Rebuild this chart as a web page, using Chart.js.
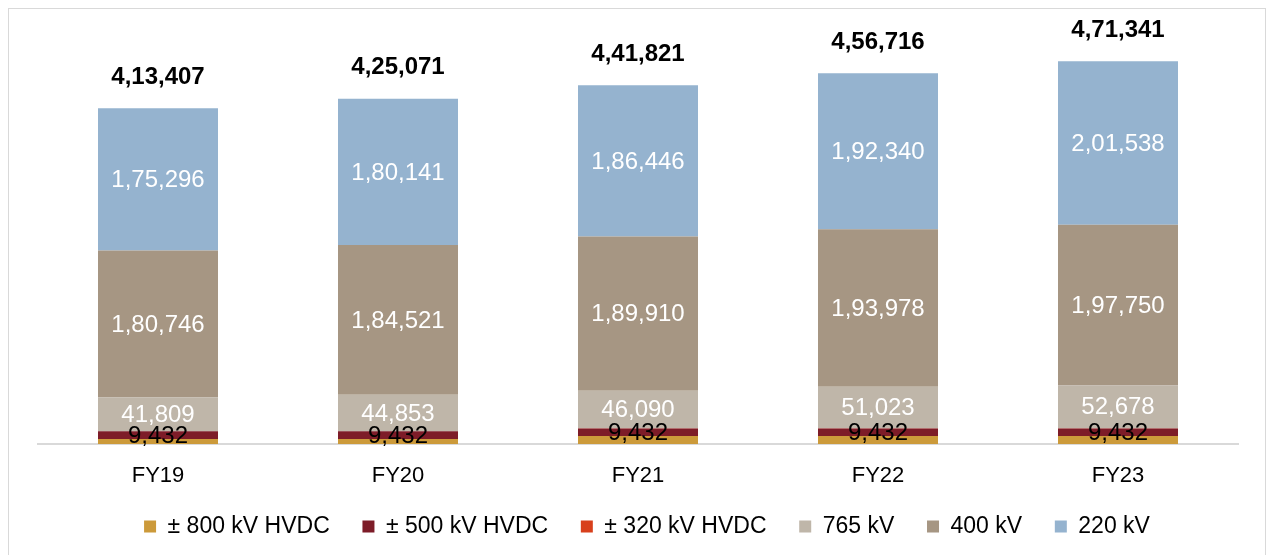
<!DOCTYPE html>
<html>
<head>
<meta charset="utf-8">
<script src="https://cdn.jsdelivr.net/npm/chart.js@4/dist/chart.umd.min.js"></script>
<style>
  body { margin: 0; background: #fff; }
  #wrap { position: relative; width: 1270px; height: 555px; overflow: hidden; }
  #frame { position: absolute; left: 8px; top: 8px; width: 1256px; height: 600px; border: 1px solid #d9d9d9; }
  canvas { position: absolute; left: 0; top: 0; }
</style>
</head>
<body>
<div id="wrap">
  <div id="frame"></div>
  <canvas id="grafica" width="1270" height="555"></canvas>
</div>
<script>
// Datos (km de circuito por nivel de tension)
const years = ['FY19', 'FY20', 'FY21', 'FY22', 'FY23'];
const hvdc800 = [6124, 6124, 9655, 9655, 9655];
const hvdc500 = [9432, 9432, 9432, 9432, 9432];
const hvdc320 = [0, 0, 288, 288, 288];
const kv765 = [41809, 44853, 46090, 51023, 52678];
const kv400 = [180746, 184521, 189910, 193978, 197750];
const kv220 = [175296, 180141, 186446, 192340, 201538];
const totals = [413407, 425071, 441821, 456716, 471341];

const FONT = '"Liberation Sans", Arial, sans-serif';

// formato indio: 4,13,407
function fmtIN(n) {
    const s = String(Math.round(n));
    if (s.length <= 3) return s;
    let last3 = s.slice(-3);
    let rest = s.slice(0, -3);
    rest = rest.replace(/\B(?=(\d{2})+(?!\d))/g, ',');
    return rest + ',' + last3;
}

// etiquetas dentro de las barras y totales arriba
const labelsPlugin = {
    id: 'labelsPlugin',
    afterDatasetsDraw(chart) {
        const ctx = chart.ctx;
        ctx.save();
        ctx.textAlign = 'center';
        ctx.textBaseline = 'middle';
        chart.data.datasets.forEach((ds, di) => {
            if (!ds.labelColor) return;
            const meta = chart.getDatasetMeta(di);
            meta.data.forEach((bar, i) => {
                const v = ds.data[i];
                if (!v) return;
                ctx.font = '24px ' + FONT;
                ctx.fillStyle = ds.labelColor;
                ctx.fillText(fmtIN(v), bar.x, (bar.y + bar.base) / 2 + 1);
            });
        });
        const top = chart.getDatasetMeta(chart.data.datasets.length - 1);
        top.data.forEach((bar, i) => {
            ctx.font = 'bold 24px ' + FONT;
            ctx.fillStyle = '#000';
            ctx.fillText(fmtIN(totals[i]), bar.x, bar.y - 31);
        });
        ctx.restore();
    }
};

// mover la leyenda un poco
const legendShift = {
    id: 'legendShift',
    afterLayout(chart) {
        const lg = chart.legend;
        const dx = 9, dy = -26;
        lg.left += dx; lg.right += dx;
        lg.top += dy; lg.bottom += dy;
    }
};

const ctx = document.getElementById('grafica').getContext('2d');

new Chart(ctx, {
    type: 'bar',
    data: {
        labels: years,
        datasets: [
            { label: '± 800 kV HVDC', data: hvdc800, backgroundColor: '#CC9A3A' },
            { label: '± 500 kV HVDC', data: hvdc500, backgroundColor: '#7D1C28', labelColor: '#000' },
            { label: '± 320 kV HVDC', data: hvdc320, backgroundColor: '#D8401C' },
            { label: '765 kV', data: kv765, backgroundColor: '#BFB6A9', labelColor: '#fff' },
            { label: '400 kV', data: kv400, backgroundColor: '#A69683', labelColor: '#fff' },
            { label: '220 kV', data: kv220, backgroundColor: '#95B3CF', labelColor: '#fff' }
        ]
    },
    options: {
        responsive: false,
        animation: false,
        devicePixelRatio: 1,
        datasets: {
            bar: { categoryPercentage: 1, barPercentage: 0.5, borderWidth: 0 }
        },
        layout: { padding: { left: 38, right: 32, top: 38, bottom: -19 } },
        scales: {
            x: {
                stacked: true,
                grid: { display: false, drawTicks: false },
                border: { display: true, color: '#d9d9d9', width: 2 },
                ticks: { color: '#000', font: { family: FONT, size: 22 }, padding: 19 }
            },
            y: {
                stacked: true,
                display: false,
                min: 0,
                max: 500000
            }
        },
        plugins: {
            legend: {
                position: 'bottom',
                labels: {
                    color: '#000',
                    font: { family: FONT, size: 23 },
                    boxWidth: 12,
                    boxHeight: 12,
                    padding: 32.7
                }
            },
            tooltip: { enabled: false },
            title: { display: false }
        }
    },
    plugins: [labelsPlugin, legendShift]
});
</script>
</body>
</html>
